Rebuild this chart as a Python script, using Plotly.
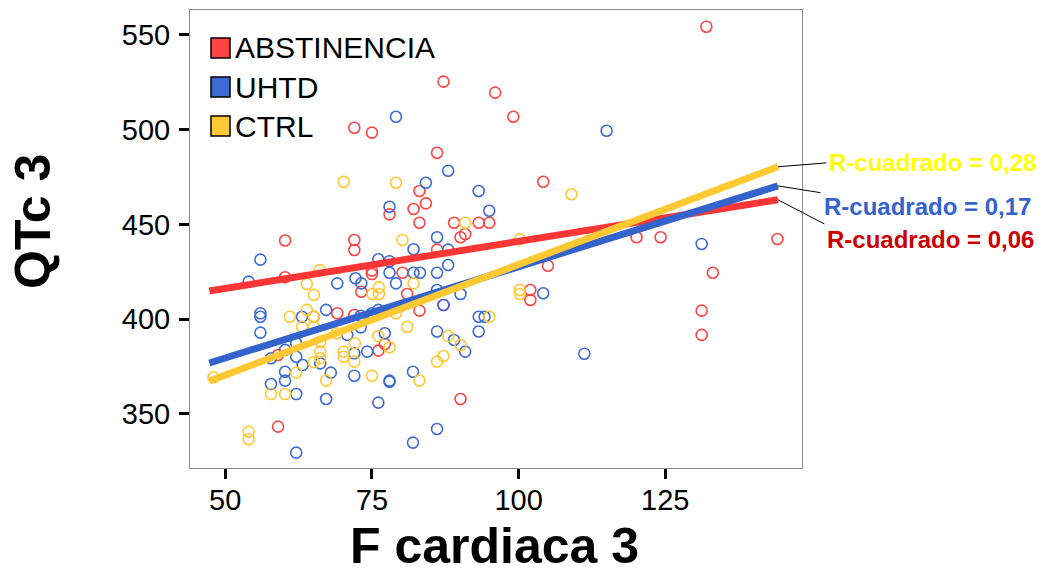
import plotly.graph_objects as go

# ---------------- data ----------------
groups = ["ABSTINENCIA", "UHTD", "CTRL"]

abst_x = [87.2, 96.0, 72.0, 75.0, 86.1, 83.1, 84.2, 78.0, 82.1, 83.1, 89.0, 93.2, 95.0,
          90.1, 90.9, 60.2, 72.0, 72.0, 86.1, 75.0, 75.0, 80.2, 73.2, 81.0, 87.2, 60.2,
          65.1, 69.1, 72.0, 83.1, 59.0, 76.1, 77.2, 90.1, 59.0, 99.1, 132.0, 104.2,
          120.1, 124.2, 144.1, 105.0, 102.0, 102.0, 133.1, 131.2, 131.2]
abst_y = [525.3, 519.5, 501.0, 498.4, 487.8, 467.6, 461.1, 455.3, 458.1, 450.9, 450.9, 450.9, 450.9,
          443.2, 444.9, 441.5, 441.8, 436.5, 436.7, 425.6, 423.8, 424.5, 414.5, 413.3, 407.5, 422.1,
          401.3, 403.1, 402.2, 404.5, 381.1, 383.4, 386.9, 357.9, 343.3, 506.8, 554.3, 472.5,
          443.2, 443.2, 442.3, 428.2, 415.4, 410.1, 424.5, 404.5, 391.7]

uhtd_x = [79.1, 88.0, 84.2, 93.2, 78.0, 95.0, 86.1, 82.1, 88.0, 76.1, 78.0, 56.0, 88.0,
          78.0, 82.1, 83.2, 86.1, 54.0, 72.2, 73.2, 79.1, 69.1, 86.1, 90.1, 87.2, 56.0,
          56.0, 63.1, 67.2, 73.1, 75.0, 76.1, 73.1, 70.8, 77.2, 56.0, 57.8, 60.2, 62.1,
          62.1, 60.2, 60.2, 57.8, 62.1, 63.2, 66.2, 68.0, 67.2, 72.0, 72.0, 74.2, 78.0,
          78.0, 76.1, 82.0, 86.1, 89.0, 90.9, 93.2, 94.2, 93.2, 62.1, 86.1, 82.0, 115.0,
          131.2, 104.2, 111.2]
uhtd_y = [506.8, 478.3, 472.0, 467.6, 459.3, 457.2, 443.2, 436.9, 436.7, 431.6, 430.6, 431.4, 428.6,
          424.5, 424.5, 424.5, 424.5, 419.8, 421.6, 418.9, 418.9, 418.9, 415.4, 413.3, 407.5, 403.1,
          401.3, 401.3, 404.9, 401.8, 403.1, 404.9, 395.7, 391.7, 392.6, 392.9, 379.4, 383.8, 387.3,
          380.2, 372.3, 367.6, 365.8, 360.5, 375.8, 376.7, 371.8, 357.9, 382.0, 370.2, 382.9, 367.6,
          367.0, 356.0, 372.3, 393.5, 389.0, 382.9, 401.3, 401.3, 393.5, 329.6, 342.1, 334.9, 499.4,
          439.7, 413.7, 381.8]

ctrl_x = [70.2, 79.1, 90.9, 80.2, 66.1, 63.9, 65.1, 75.1, 76.2, 76.2, 82.1, 61.0, 63.9,
          65.1, 65.1, 63.1, 79.1, 69.0, 76.1, 81.0, 66.2, 72.1, 57.8, 60.2, 62.1, 65.1,
          66.2, 66.2, 67.2, 70.2, 70.2, 72.0, 78.0, 75.0, 83.1, 86.1, 87.2, 88.0, 90.1,
          95.0, 48.0, 54.0, 54.0, 100.2, 109.0, 100.2, 100.2]
ctrl_y = [472.5, 472.0, 450.9, 441.8, 425.9, 418.6, 412.8, 413.3, 416.8, 413.3, 418.9, 401.3, 404.9,
          401.3, 396.0, 396.0, 403.1, 392.6, 391.1, 396.0, 388.1, 387.3, 360.5, 360.5, 371.8, 377.3,
          382.9, 379.4, 367.6, 382.9, 380.2, 377.6, 385.2, 370.2, 367.6, 377.6, 380.6, 391.1, 386.4,
          401.3, 369.4, 340.7, 336.7, 442.1, 465.9, 415.4, 413.3]

# linear-fit end points
fit_x = [47.3, 144.2]
abst_fit = [414.9, 463.0]
uhtd_fit = [376.9, 470.3]
ctrl_fit = [367.4, 480.4]

r2_labels = ["R-cuadrado = 0,06", "R-cuadrado = 0,17", "R-cuadrado = 0,28"]

x_ticks = [50, 75, 100, 125]
y_ticks = [350, 400, 450, 500, 550]

# ---------------- styling ----------------
marker_cols = ["#FF4444", "#3D6BD4", "#FFC935"]
line_cols = ["#FF3636", "#3463CC", "#FFC933"]
label_cols = ["#CC0000", "#3463CC", "#FFFF00"]
FONT = "Liberation Sans, Arial, sans-serif"

# the page body adds an 8px margin, so the figure is drawn 8px in from the window edge
OFF = 8
W, H = 1045 - 2 * OFF, 572 - 2 * OFF
L, R, T, B = 190, 802, 10, 468   # plot frame in window pixels


def px(x):
    return (x - L) / (R - L)


def py(y):
    return (B - y) / (B - T)


fig = go.Figure()

pts = [(abst_x, abst_y), (uhtd_x, uhtd_y), (ctrl_x, ctrl_y)]
for (xs, ys), name, col in zip(pts, groups, marker_cols):
    fig.add_trace(go.Scatter(
        x=xs, y=ys, mode="markers", name=name, showlegend=False,
        marker=dict(symbol="circle-open", size=11, color=col, line=dict(width=1.6, color=col)),
    ))

fits = [abst_fit, uhtd_fit, ctrl_fit]
for fy, col in zip(fits, line_cols):
    fig.add_trace(go.Scatter(
        x=fit_x, y=fy, mode="lines", showlegend=False, hoverinfo="skip",
        line=dict(color=col, width=7),
    ))

annotations = []
shapes = []

# custom legend
leg_rows = [48, 87, 126]
for name, col, yc in zip(groups, marker_cols, leg_rows):
    shapes.append(dict(type="rect", xref="paper", yref="paper",
                       x0=px(211), x1=px(230), y0=py(yc - 10), y1=py(yc + 10),
                       fillcolor=col, line=dict(color="black", width=1.5)))
    annotations.append(dict(xref="paper", yref="paper", x=px(233), y=py(yc),
                            xanchor="left", yanchor="middle", showarrow=False,
                            text=name, font=dict(family=FONT, size=30, color="black")))

# R-squared labels with leader lines
label_pos = [(825, 239), (822, 206), (827, 163)]  # left edge, centre y
leader_off = [(48, 25), (44, 7), (50, -4)]
for lab, col, (lx, ly), fy, (ax, ay) in zip(r2_labels, label_cols, label_pos, fits, leader_off):
    annotations.append(dict(xref="paper", yref="paper", x=px(lx), y=py(ly),
                            xanchor="left", yanchor="middle", showarrow=False,
                            text="<b>%s</b>" % lab,
                            font=dict(family=FONT, size=24, color=col)))
    annotations.append(dict(xref="x", yref="y", x=fit_x[1], y=fy[1], text="",
                            showarrow=True, arrowhead=0, arrowwidth=1, arrowcolor="black",
                            ax=ax, ay=ay, axref="pixel", ayref="pixel", standoff=0, startstandoff=0))

# axis titles
annotations.append(dict(xref="paper", yref="paper", x=px(494), y=py(546),
                        xanchor="center", yanchor="middle", showarrow=False,
                        text="<b>F cardiaca 3</b>", font=dict(family=FONT, size=50, color="black")))
annotations.append(dict(xref="paper", yref="paper", x=px(33), y=py(222),
                        xanchor="center", yanchor="middle", showarrow=False, textangle=-90,
                        text="<b>QTc 3</b>", font=dict(family=FONT, size=50, color="black")))

fig.update_layout(
    width=W, height=H, autosize=False,
    margin=dict(l=L - OFF, r=(W + OFF) - R, t=T - OFF, b=(H + OFF) - B, pad=0),
    plot_bgcolor="white", paper_bgcolor="white",
    showlegend=False,
    annotations=annotations, shapes=shapes,
    font=dict(family=FONT, color="black"),
)
fig.update_xaxes(range=[44.0, 148.3], tickvals=x_ticks, ticks="outside", ticklen=10, tickwidth=3,
                 tickcolor="black", showgrid=False, zeroline=False, showline=True, mirror=True,
                 linecolor="#8c8c8c", linewidth=1, tickfont=dict(family=FONT, size=29, color="black"),
                 ticklabelstandoff=-4)
fig.update_yaxes(range=[321.5, 563.1], tickvals=y_ticks, ticks="outside", ticklen=10, tickwidth=3,
                 tickcolor="black", showgrid=False, zeroline=False, showline=True, mirror=True,
                 linecolor="#8c8c8c", linewidth=1, tickfont=dict(family=FONT, size=29, color="black"),
                 ticklabelstandoff=3)

fig.write_html("out.html")
